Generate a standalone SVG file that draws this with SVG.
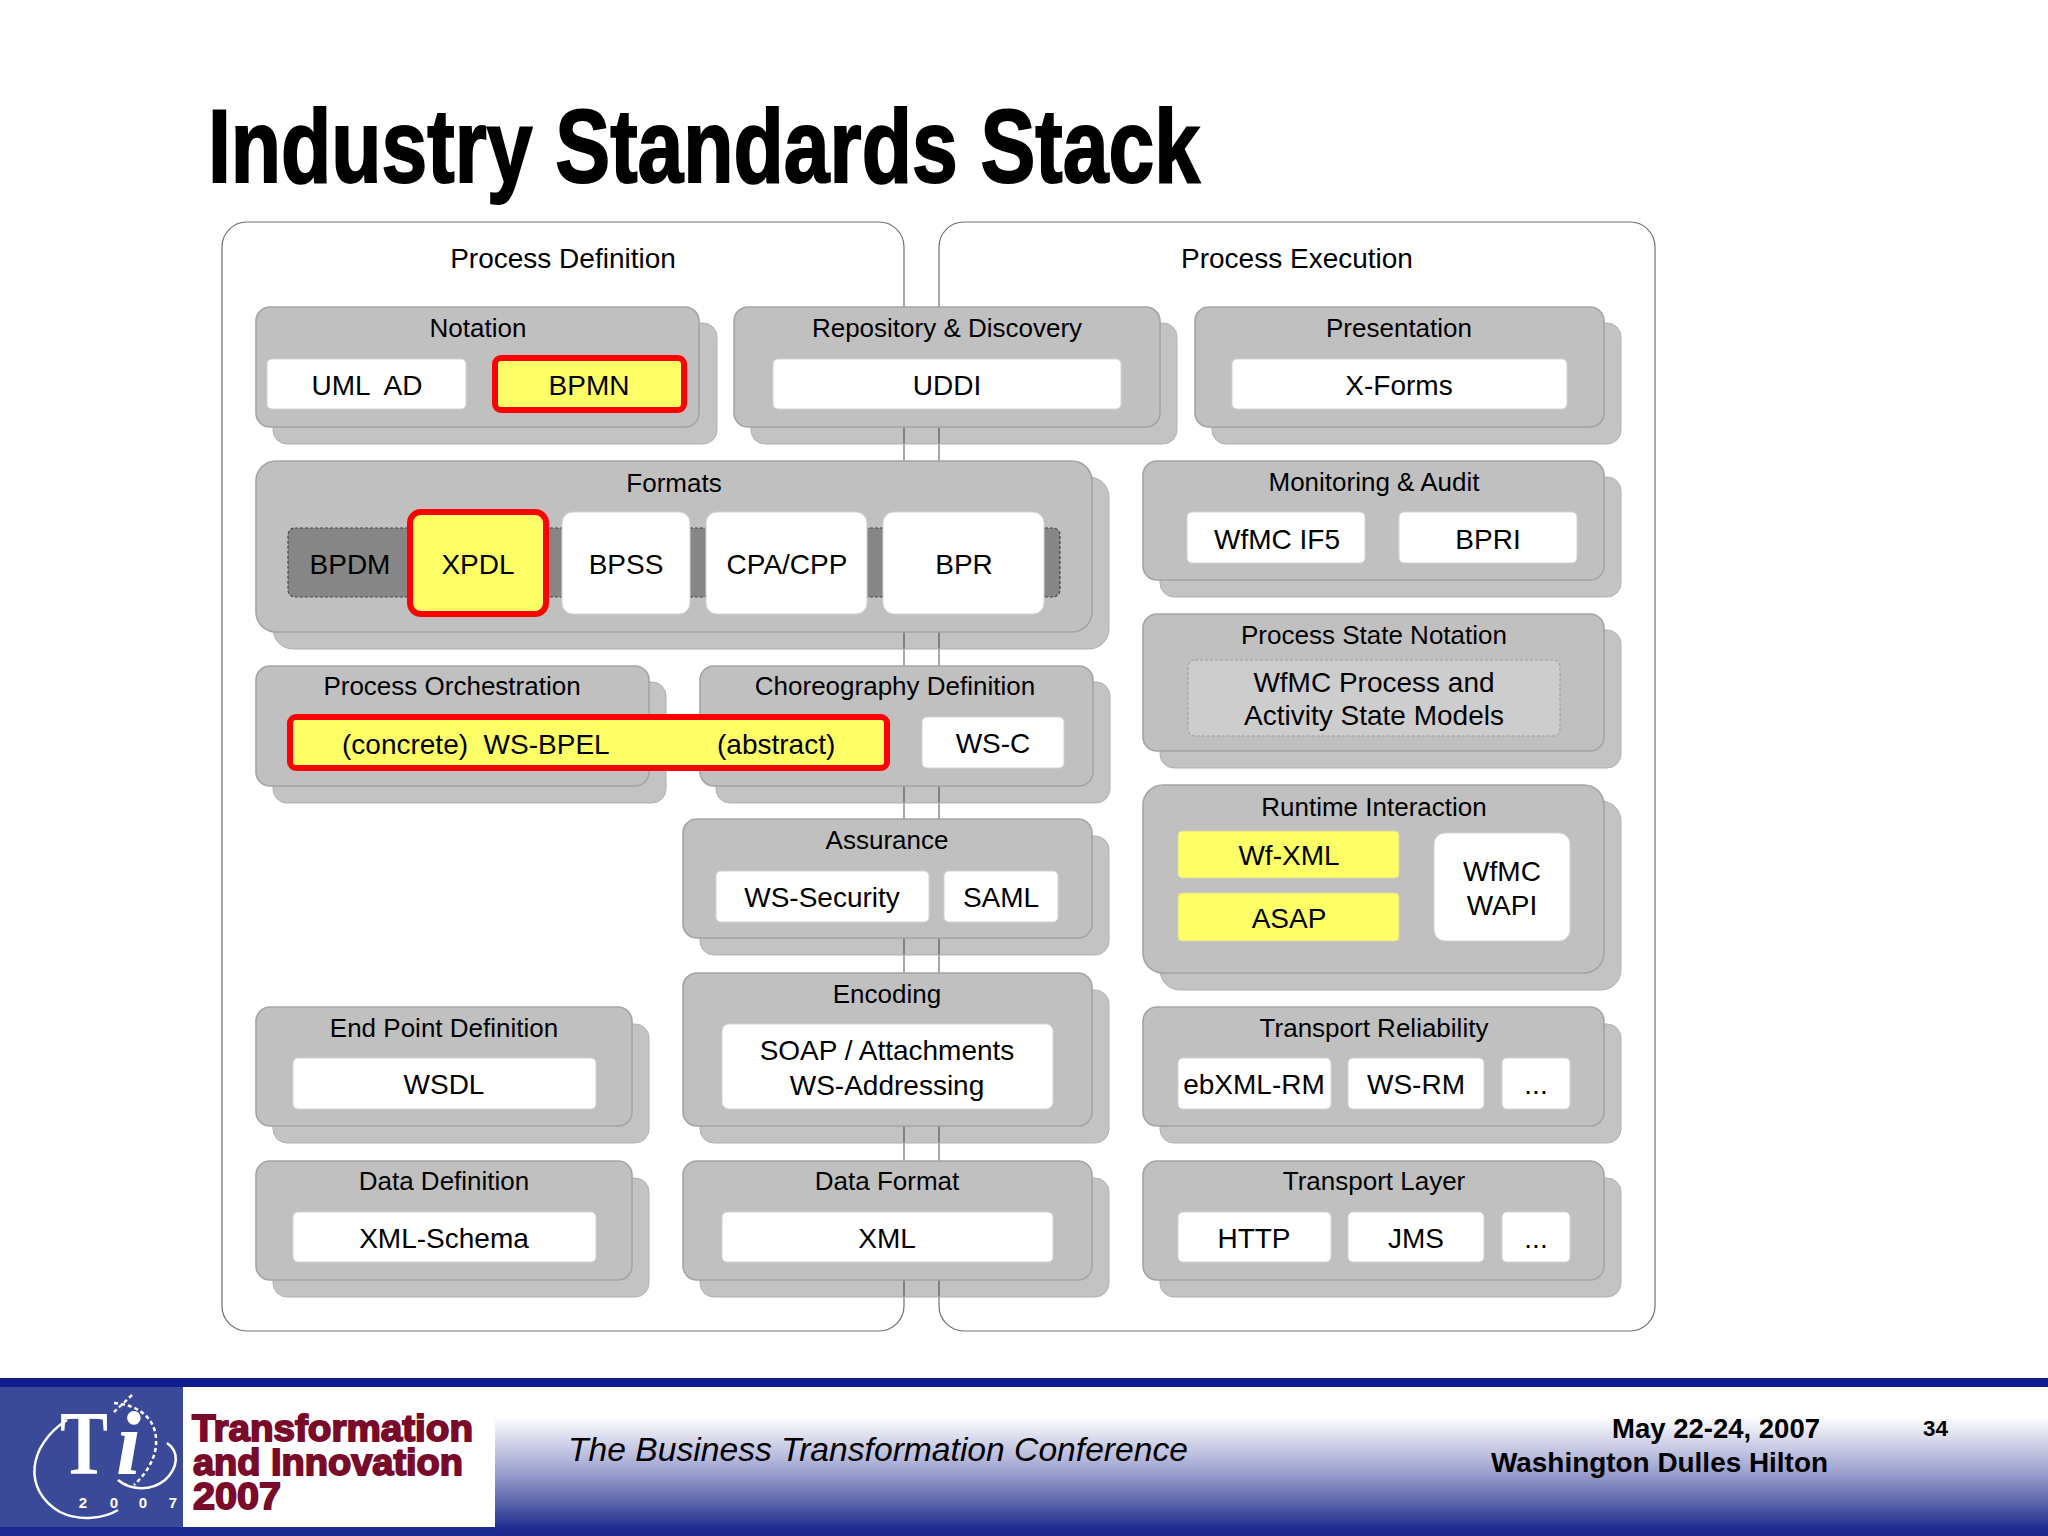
<svg xmlns="http://www.w3.org/2000/svg" width="2048" height="1536" viewBox="0 0 2048 1536">
<defs>
<linearGradient id="band" x1="0" y1="0" x2="0" y2="1"><stop offset="0" stop-color="#ffffff"/><stop offset="0.2" stop-color="#ffffff"/><stop offset="0.56" stop-color="#a0a4d0"/><stop offset="0.78" stop-color="#5a64aa"/><stop offset="0.95" stop-color="#1f2b8f"/><stop offset="1" stop-color="#1c288e"/></linearGradient>
</defs>
<style>
text{font-family:"Liberation Sans",Arial,sans-serif;fill:#000;white-space:pre}
.c{text-anchor:middle}
.h{font-size:28px}
.l{font-size:26px;text-anchor:middle}
.t{font-size:28px;text-anchor:middle}
.outer{fill:#fff;stroke:#707070;stroke-width:1.2}
.s{fill:#000;fill-opacity:.235;stroke:#b0b0b0;stroke-width:1}
.g{fill:#c0c0c0;stroke:#a4a4a4;stroke-width:1.6}
.w{fill:#fff;stroke:#d4d4d4;stroke-width:1}
.y{fill:#ffff66;stroke:#d8d8a0;stroke-width:1}
.r{fill:#ffff66;stroke:#ff0000;stroke-width:6}
.f{font-size:28px;font-weight:bold}
.logo{font-weight:bold;fill:#7a0a2a;stroke:#7a0a2a;stroke-width:1.8;font-size:37px}
.sw{fill:none;stroke:#fff;stroke-width:2.5}
</style>
<rect width="2048" height="1536" fill="#fff"/>
<text id="title" x="208" y="182" font-size="103" font-weight="bold" textLength="992" lengthAdjust="spacingAndGlyphs" stroke="#000" stroke-width="2">Industry Standards Stack</text>

<g id="process-definition"><rect class="outer" x="222" y="222" width="682" height="1109" rx="25"/><text class="h c" x="563" y="268">Process Definition</text></g>
<g id="process-execution"><rect class="outer" x="939" y="222" width="716" height="1109" rx="25"/><text class="h c" x="1297" y="268">Process Execution</text></g>

<g id="notation"><rect class="s" x="273" y="323" width="444" height="121" rx="14"/><rect class="g" x="256" y="307" width="443" height="120" rx="14"/><text class="l" x="478" y="337">Notation</text>
<rect class="w" x="267" y="359" width="199" height="50" rx="5"/><text class="t" x="367" y="395">UML  AD</text>
<rect class="r" x="495" y="358" width="189" height="52" rx="6"/><text class="t" x="589" y="395">BPMN</text></g>

<g id="repository"><rect class="s" x="751" y="323" width="426" height="121" rx="14"/><rect class="g" x="734" y="307" width="426" height="120" rx="14"/><text class="l" x="947" y="337">Repository &amp; Discovery</text>
<rect class="w" x="773" y="359" width="348" height="50" rx="5"/><text class="t" x="947" y="395">UDDI</text></g>

<g id="presentation"><rect class="s" x="1212" y="323" width="409" height="121" rx="14"/><rect class="g" x="1195" y="307" width="409" height="120" rx="14"/><text class="l" x="1399" y="337">Presentation</text>
<rect class="w" x="1232" y="359" width="335" height="50" rx="5"/><text class="t" x="1399" y="395">X-Forms</text></g>

<g id="formats"><rect class="s" x="273" y="477" width="836" height="172" rx="20"/><rect class="g" x="256" y="461" width="836" height="171" rx="20"/><text class="l" x="674" y="492">Formats</text>
<rect x="288" y="528" width="772" height="69" rx="7" fill="#868686" stroke="#444" stroke-width="1.2" stroke-dasharray="3 2"/>
<text class="t" x="350" y="574">BPDM</text>
<rect class="r" x="410" y="512" width="136" height="102" rx="11"/><text class="t" x="478" y="574">XPDL</text>
<rect class="w" x="562" y="512" width="128" height="102" rx="11"/><text class="t" x="626" y="574">BPSS</text>
<rect class="w" x="706" y="512" width="161" height="102" rx="11"/><text class="t" x="787" y="574">CPA/CPP</text>
<rect class="w" x="883" y="512" width="161" height="102" rx="11"/><text class="t" x="964" y="574">BPR</text></g>

<g id="monitoring"><rect class="s" x="1160" y="477" width="461" height="120" rx="14"/><rect class="g" x="1143" y="461" width="461" height="119" rx="14"/><text class="l" x="1374" y="491">Monitoring &amp; Audit</text>
<rect class="w" x="1187" y="512" width="178" height="51" rx="5"/><text class="t" x="1277" y="549">WfMC IF5</text>
<rect class="w" x="1399" y="512" width="178" height="51" rx="5"/><text class="t" x="1488" y="549">BPRI</text></g>

<g id="state-notation"><rect class="s" x="1160" y="630" width="461" height="138" rx="14"/><rect class="g" x="1143" y="614" width="461" height="137" rx="14"/><text class="l" x="1374" y="644">Process State Notation</text>
<rect x="1188" y="660" width="372" height="76" rx="7" fill="#cdcdcd" stroke="#999" stroke-width="1" stroke-dasharray="3 2"/>
<text class="t" x="1374" y="692">WfMC Process and</text><text class="t" x="1374" y="725">Activity State Models</text></g>

<g id="orchestration"><rect class="s" x="273" y="682" width="393" height="121" rx="14"/><rect class="g" x="256" y="666" width="393" height="120" rx="14"/><text class="l" x="452" y="695">Process Orchestration</text></g>

<g id="choreography"><rect class="s" x="716" y="682" width="394" height="121" rx="14"/><rect class="g" x="700" y="666" width="393" height="120" rx="14"/><text class="l" x="895" y="695">Choreography Definition</text>
<rect class="w" x="922" y="717" width="142" height="51" rx="5"/><text class="t" x="993" y="753">WS-C</text></g>

<g id="ws-bpel"><rect class="r" x="290" y="717" width="597" height="51" rx="6"/><text x="342" y="754" font-size="28">(concrete)  WS-BPEL</text><text x="717" y="754" font-size="28">(abstract)</text></g>

<g id="assurance"><rect class="s" x="700" y="836" width="409" height="119" rx="14"/><rect class="g" x="683" y="819" width="409" height="119" rx="14"/><text class="l" x="887" y="849">Assurance</text>
<rect class="w" x="716" y="871" width="213" height="51" rx="5"/><text class="t" x="822" y="907">WS-Security</text>
<rect class="w" x="944" y="871" width="114" height="51" rx="5"/><text class="t" x="1001" y="907">SAML</text></g>

<g id="runtime"><rect class="s" x="1160" y="801" width="461" height="189" rx="20"/><rect class="g" x="1143" y="785" width="461" height="188" rx="20"/><text class="l" x="1374" y="816">Runtime Interaction</text>
<rect class="y" x="1178" y="831" width="221" height="47" rx="4"/><text class="t" x="1289" y="865">Wf-XML</text>
<rect class="y" x="1178" y="893" width="221" height="48" rx="4"/><text class="t" x="1289" y="928">ASAP</text>
<rect class="w" x="1434" y="833" width="136" height="108" rx="11"/><text class="t" x="1502" y="881">WfMC</text><text class="t" x="1502" y="915">WAPI</text></g>

<g id="encoding"><rect class="s" x="700" y="990" width="409" height="153" rx="14"/><rect class="g" x="683" y="973" width="409" height="153" rx="14"/><text class="l" x="887" y="1003">Encoding</text>
<rect class="w" x="722" y="1024" width="331" height="85" rx="7"/><text class="t" x="887" y="1060">SOAP / Attachments</text><text class="t" x="887" y="1095">WS-Addressing</text></g>

<g id="endpoint"><rect class="s" x="273" y="1024" width="376" height="119" rx="14"/><rect class="g" x="256" y="1007" width="376" height="119" rx="14"/><text class="l" x="444" y="1037">End Point Definition</text>
<rect class="w" x="293" y="1058" width="303" height="51" rx="5"/><text class="t" x="444" y="1094">WSDL</text></g>

<g id="transport-reliability"><rect class="s" x="1160" y="1024" width="461" height="119" rx="14"/><rect class="g" x="1143" y="1007" width="461" height="119" rx="14"/><text class="l" x="1374" y="1037">Transport Reliability</text>
<rect class="w" x="1178" y="1058" width="153" height="51" rx="5"/><text class="t" x="1254" y="1094">ebXML-RM</text>
<rect class="w" x="1348" y="1058" width="136" height="51" rx="5"/><text class="t" x="1416" y="1094">WS-RM</text>
<rect class="w" x="1502" y="1058" width="68" height="51" rx="5"/><text class="t" x="1536" y="1094">...</text></g>

<g id="data-definition"><rect class="s" x="273" y="1178" width="376" height="119" rx="14"/><rect class="g" x="256" y="1161" width="376" height="119" rx="14"/><text class="l" x="444" y="1190">Data Definition</text>
<rect class="w" x="293" y="1212" width="303" height="50" rx="5"/><text class="t" x="444" y="1248">XML-Schema</text></g>

<g id="data-format"><rect class="s" x="700" y="1178" width="409" height="119" rx="14"/><rect class="g" x="683" y="1161" width="409" height="119" rx="14"/><text class="l" x="887" y="1190">Data Format</text>
<rect class="w" x="722" y="1212" width="331" height="50" rx="5"/><text class="t" x="887" y="1248">XML</text></g>

<g id="transport-layer"><rect class="s" x="1160" y="1178" width="461" height="119" rx="14"/><rect class="g" x="1143" y="1161" width="461" height="119" rx="14"/><text class="l" x="1374" y="1190">Transport Layer</text>
<rect class="w" x="1178" y="1212" width="153" height="50" rx="5"/><text class="t" x="1254" y="1248">HTTP</text>
<rect class="w" x="1348" y="1212" width="136" height="50" rx="5"/><text class="t" x="1416" y="1248">JMS</text>
<rect class="w" x="1502" y="1212" width="68" height="50" rx="5"/><text class="t" x="1536" y="1248">...</text></g>

<g id="footer">
<rect x="0" y="1387" width="2048" height="149" fill="url(#band)"/>
<rect x="0" y="1378" width="2048" height="9" fill="#0e1c8e"/>
<rect x="0" y="1527" width="495" height="9" fill="#1c2a90"/>
<rect x="0" y="1387" width="183" height="140" fill="#3a4a99"/>
<rect x="183" y="1387" width="312" height="140" fill="#fff"/>
<path class="sw" d="M67 1420C28 1445 22 1490 60 1512C80 1522 105 1518 118 1510"/>
<path class="sw" stroke-dasharray="4 3" d="M132 1395L114 1412M114 1403C140 1405 158 1420 156 1445C155 1460 145 1475 134 1485"/>
<path class="sw" d="M167 1443C180 1452 178 1468 165 1480C150 1492 130 1490 118 1480"/>
<text x="60" y="1474" font-size="90" font-weight="bold" textLength="48" lengthAdjust="spacingAndGlyphs" style="font-family:'Liberation Serif',serif;fill:#fff">T</text>
<text x="116" y="1474" font-size="90" font-weight="bold" font-style="italic" style="font-family:'Liberation Serif',serif;fill:#fff">i</text>
<text x="83" y="1508" font-size="15" font-weight="bold" style="fill:#fff" class="c">2</text>
<text x="114" y="1508" font-size="15" font-weight="bold" style="fill:#fff" class="c">0</text>
<text x="143" y="1508" font-size="15" font-weight="bold" style="fill:#fff" class="c">0</text>
<text x="173" y="1508" font-size="15" font-weight="bold" style="fill:#fff" class="c">7</text>
<text class="logo" x="192" y="1441" textLength="281" lengthAdjust="spacingAndGlyphs">Transformation</text>
<text class="logo" x="193" y="1475" textLength="270" lengthAdjust="spacingAndGlyphs">and Innovation</text>
<text class="logo" x="193" y="1509" textLength="88" lengthAdjust="spacingAndGlyphs">2007</text>
<text x="568" y="1461" font-size="34" font-style="italic" textLength="620" lengthAdjust="spacingAndGlyphs">The Business Transformation Conference</text>
<text class="f" x="1612" y="1438" textLength="208" lengthAdjust="spacingAndGlyphs">May 22-24, 2007</text>
<text class="f" x="1491" y="1472" textLength="337" lengthAdjust="spacingAndGlyphs">Washington Dulles Hilton</text>
<text x="1923" y="1436" font-size="22" font-weight="bold" textLength="25" lengthAdjust="spacingAndGlyphs">34</text>
</g>
</svg>
